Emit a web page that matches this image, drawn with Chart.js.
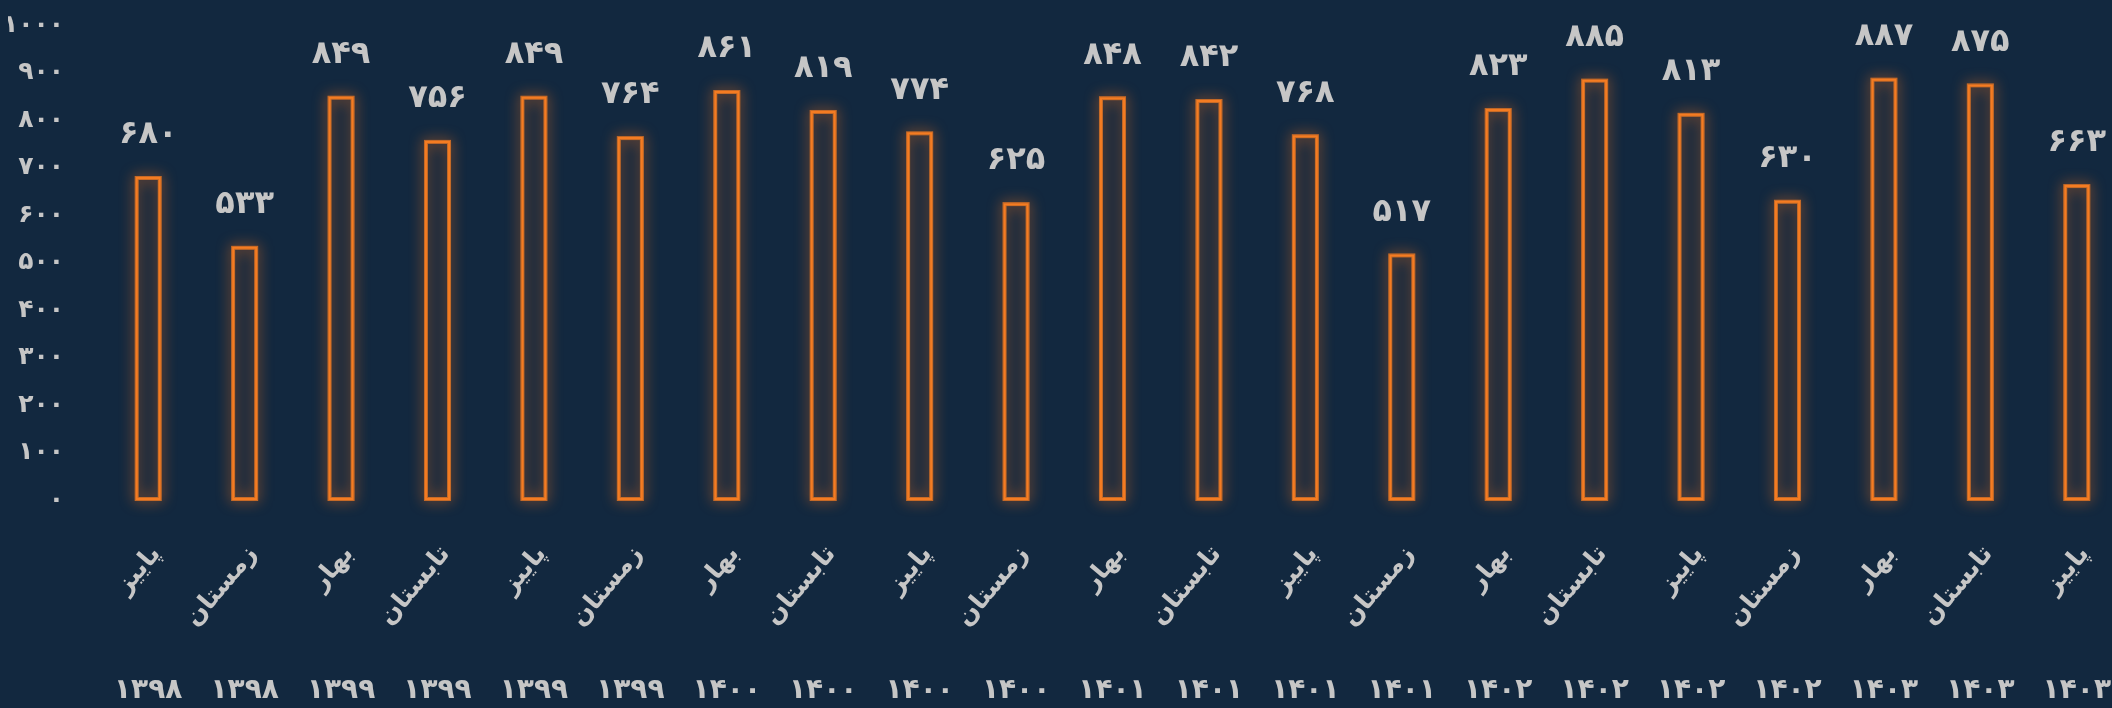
<!DOCTYPE html>
<html lang="fa">
<head>
<meta charset="utf-8">
<title>نمودار فصلی</title>
<script src="https://cdn.jsdelivr.net/npm/chart.js@4.4.1/dist/chart.umd.min.js"></script>
<style>
    html, body {
        margin: 0;
        padding: 0;
        background: #12283f;
        overflow: hidden;
    }
    .chart-wrap {
        position: relative;
        width: 2130px;
        height: 708px;
    }
</style>
</head>
<body>
<div class="chart-wrap">
    <canvas id="seasonChart"></canvas>
</div>
<script>
// Chart data
const seasons = [
    'پاییز', 'زمستان',
    'بهار', 'تابستان', 'پاییز', 'زمستان',
    'بهار', 'تابستان', 'پاییز', 'زمستان',
    'بهار', 'تابستان', 'پاییز', 'زمستان',
    'بهار', 'تابستان', 'پاییز', 'زمستان',
    'بهار', 'تابستان', 'پاییز'
];
const years = [
    '۱۳۹۸', '۱۳۹۸',
    '۱۳۹۹', '۱۳۹۹', '۱۳۹۹', '۱۳۹۹',
    '۱۴۰۰', '۱۴۰۰', '۱۴۰۰', '۱۴۰۰',
    '۱۴۰۱', '۱۴۰۱', '۱۴۰۱', '۱۴۰۱',
    '۱۴۰۲', '۱۴۰۲', '۱۴۰۲', '۱۴۰۲',
    '۱۴۰۳', '۱۴۰۳', '۱۴۰۳'
];
const values = [
    680, 533,
    849, 756, 849, 764,
    861, 819, 774, 625,
    848, 842, 768, 517,
    823, 885, 813, 630,
    887, 875, 663
];

const colors = {
    bg: '#12283f',
    bar: '#f57c22',
    glow: 'rgba(255, 120, 30, 1)',
    text: '#c6c6c6'
};
const fontFamily = '"DejaVu Sans", sans-serif';

// latin digits -> persian digits
function toFa(n) {
    return String(n).replace(/\d/g, d => '۰۱۲۳۴۵۶۷۸۹'[d]);
}

// soft orange glow behind each bar
const glowPlugin = {
    id: 'barGlow',
    beforeDatasetsDraw(chart) {
        const ctx = chart.ctx;
        const meta = chart.getDatasetMeta(0);
        ctx.save();
        ctx.shadowColor = colors.glow;
        ctx.shadowBlur = 14;
        ctx.strokeStyle = 'rgba(245, 124, 34, 0.75)';
        ctx.lineWidth = 4;
        meta.data.forEach(bar => {
            const p = bar.getProps(['x', 'y', 'base', 'width'], true);
            ctx.strokeRect(p.x - p.width / 2 + 1, p.y + 1, p.width - 2, p.base - p.y - 2);
        });
        ctx.restore();
    }
};

// value labels above the bars
const valueLabels = {
    id: 'valueLabels',
    afterDatasetsDraw(chart) {
        const ctx = chart.ctx;
        const meta = chart.getDatasetMeta(0);
        const data = chart.data.datasets[0].data;
        ctx.save();
        ctx.fillStyle = colors.text;
        ctx.font = 'bold 32px ' + fontFamily;
        ctx.textAlign = 'center';
        ctx.textBaseline = 'middle';
        meta.data.forEach((bar, i) => {
            const p = bar.getProps(['x', 'y'], true);
            ctx.fillText(toFa(data[i]), p.x, p.y - 42);
        });
        ctx.restore();
    }
};

const ctx = document.getElementById('seasonChart').getContext('2d');
const seasonChart = new Chart(ctx, {
    type: 'bar',
    data: {
        labels: seasons,
        datasets: [{
            data: values,
            backgroundColor: 'rgba(0, 0, 0, 0)',
            borderColor: colors.bar,
            borderWidth: 2,
            borderSkipped: false,
            barPercentage: 0.26,
            categoryPercentage: 1
        }]
    },
    options: {
        responsive: true,
        maintainAspectRatio: false,
        animation: false,
        layout: {
            padding: { top: 25, left: 8, right: 5, bottom: 0 }
        },
        scales: {
            y: {
                min: 0,
                max: 1000,
                grid: { display: false, drawTicks: false },
                border: { display: false },
                ticks: {
                    stepSize: 100,
                    color: colors.text,
                    padding: 36,
                    font: { family: fontFamily, size: 25, weight: 'bold' },
                    callback: value => toFa(value)
                },
                afterFit(scale) {
                    scale.width = 92;
                    scale.paddingTop = 0;
                    scale.paddingBottom = 0;
                }
            },
            x: {
                offset: true,
                grid: { display: false, drawTicks: false },
                border: { display: false },
                ticks: {
                    color: colors.text,
                    autoSkip: false,
                    minRotation: 50,
                    maxRotation: 50,
                    padding: 40,
                    labelOffset: 8,
                    font: { family: fontFamily, size: 25, weight: 'bold' }
                },
                afterFit(scale) {
                    scale.height = 130;
                    scale.paddingLeft = 0;
                    scale.paddingRight = 0;
                }
            },
            x2: {
                type: 'category',
                labels: years,
                position: 'bottom',
                weight: 1,
                offset: true,
                grid: { display: false, drawTicks: false },
                border: { display: false },
                ticks: {
                    color: colors.text,
                    autoSkip: false,
                    maxRotation: 0,
                    padding: 44,
                    font: { family: fontFamily, size: 28, weight: 'bold' }
                },
                afterFit(scale) {
                    scale.height = 78;
                    scale.paddingLeft = 0;
                    scale.paddingRight = 0;
                }
            }
        },
        plugins: {
            legend: { display: false },
            tooltip: { enabled: false }
        }
    },
    plugins: [glowPlugin, valueLabels]
});
</script>
</body>
</html>
